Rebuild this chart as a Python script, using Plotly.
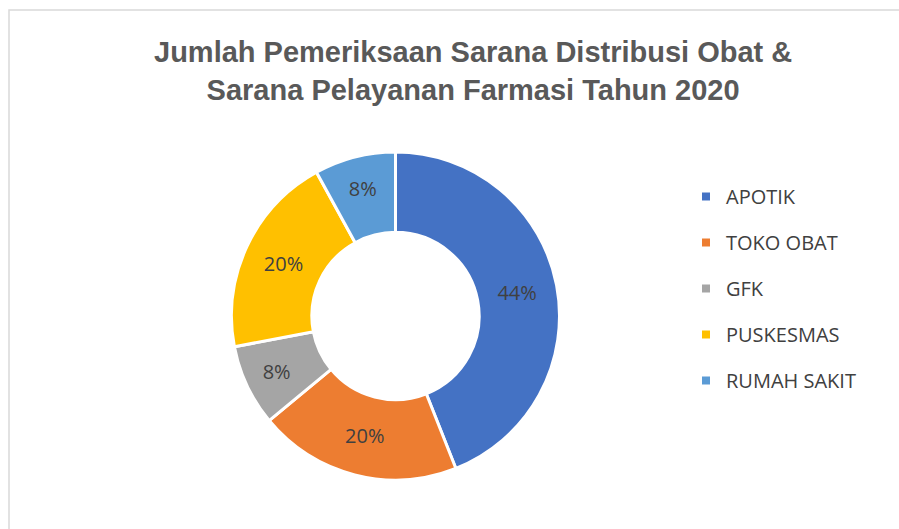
import plotly.graph_objects as go

# Data
kategori = ["APOTIK", "TOKO OBAT", "GFK", "PUSKESMAS", "RUMAH SAKIT"]
jumlah = [11, 5, 2, 5, 2]
warna = ["#4472C4", "#ED7D31", "#A5A5A5", "#FFC000", "#5B9BD5"]

judul = "Jumlah Pemeriksaan Sarana Distribusi Obat &<br>Sarana Pelayanan Farmasi Tahun 2020"

W, H = 899, 529
label_font = dict(family="Open Sans, Noto Sans, sans-serif", size=20, color="#404040")

fig = go.Figure()

# Donut
fig.add_trace(
    go.Pie(
        labels=kategori,
        values=jumlah,
        sort=False,
        direction="clockwise",
        rotation=0,
        hole=0.51,
        marker=dict(colors=warna, line=dict(color="white", width=3)),
        texttemplate="%{percent:.0%}",
        textposition="inside",
        insidetextorientation="horizontal",
        textfont=label_font,
        showlegend=False,
        domain=dict(x=[(395.5 - 164) / W, (395.5 + 164) / W],
                    y=[(213 - 164) / H, (213 + 164) / H]),
        hoverinfo="label+value+percent",
    )
)

# Legenda (satu grup per kategori agar jarak antar item bisa diatur)
for nama, w in zip(kategori, warna):
    fig.add_trace(
        go.Scatter(
            x=[None], y=[None], mode="markers", name=nama,
            marker=dict(symbol="square", size=8, color=w),
            legendgroup=nama, showlegend=True,
        )
    )

fig.update_layout(
    width=W,
    height=H,
    margin=dict(l=0, r=0, t=0, b=0),
    paper_bgcolor="white",
    plot_bgcolor="white",
    xaxis=dict(visible=False),
    yaxis=dict(visible=False),
    legend=dict(
        x=686 / W, y=(H - 177) / H, xanchor="left", yanchor="top",
        font=label_font, tracegroupgap=17, itemclick=False,
        bgcolor="rgba(0,0,0,0)",
    ),
    annotations=[
        dict(
            text="<b>" + judul + "</b>",
            x=473 / W, y=(H - 71) / H, xref="paper", yref="paper",
            xanchor="center", yanchor="middle", showarrow=False,
            font=dict(family="Liberation Sans, Arial, sans-serif", size=29, color="#595959"),
        )
    ],
    shapes=[
        dict(type="rect", xref="paper", yref="paper",
             x0=9 / W, x1=1.02, y0=-0.02, y1=(H - 10) / H,
             line=dict(color="#D9D9D9", width=1.5), fillcolor="rgba(0,0,0,0)", layer="below")
    ],
)

fig.write_html("out.html", config={"displayModeBar": False},
               post_script="document.body.style.margin='0';")
